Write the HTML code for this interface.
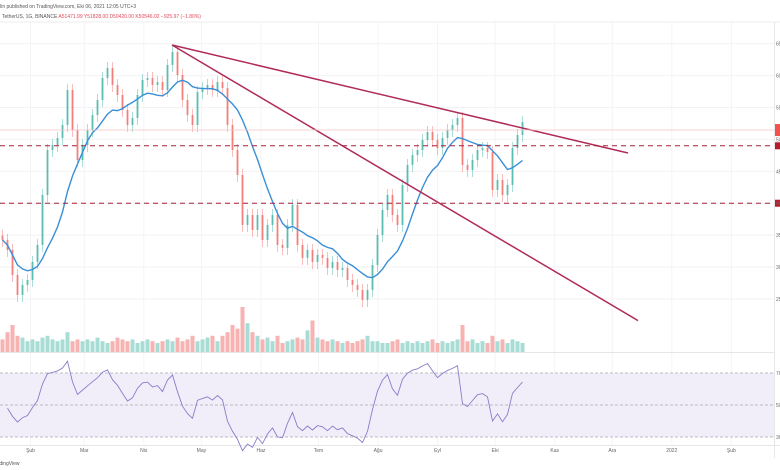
<!DOCTYPE html>
<html><head><meta charset="utf-8">
<style>
html,body{margin:0;padding:0;background:#fff;}
body{width:780px;height:470px;overflow:hidden;font-family:"Liberation Sans",sans-serif;}
svg{display:block}
</style></head>
<body>
<svg id="chart" width="780" height="470" viewBox="0 0 780 470" xmlns="http://www.w3.org/2000/svg">
  <text x="-6" y="8" font-size="5" fill="#555">eAlin published on TradingView.com, Eki 06, 2021 12:05 UTC+3</text>
  <text x="2" y="18" font-size="5" fill="#555">TetherUS, 1G, BINANCE <tspan fill="#e0495a">A51471.99 Y51828.00 D50420.00 K50546.02 −925.97 (−1.80%)</tspan></text>
  <g id="grid"></g>
  <rect x="0" y="373" width="774" height="64" fill="#f1eefa"/>
  <g id="rsiLevels"></g>
  <g id="vol"></g>
  <g id="candles"></g>
  <path id="ma" fill="none" stroke="#3a8fd6" stroke-width="1.4"/>
  <path id="rsi" fill="none" stroke="#8a7cc8" stroke-width="0.9"/>
  <g id="draw"></g>
  <g id="axes"></g>
</svg>
<script>
const closes=[34243,32676,28758,25624,27191,27975,30796,33459,41294,48346,49130,50227,52264,57748,51480,46779,49130,51480,53830,56181,59629,61196,58532,56964,54614,52264,53361,56964,59315,59629,58532,59002,57748,61666,63703,60099,56181,53830,52264,57435,58062,58532,57748,59002,58062,52264,48346,44429,36594,38161,35811,38161,34243,36594,38161,33459,32989,36594,39728,33459,31422,32676,30796,31893,31422,29855,30796,29541,29855,27975,27191,26408,24841,26408,30325,35026,38944,41294,38161,36594,42862,45996,47563,48346,49913,51167,49913,48659,50227,51480,52264,53361,45996,45212,46779,48346,48659,48032,42078,43645,41294,42862,48659,50697,52734];
const volumes=[14,22,30,18,16,12,14,12,16,18,14,12,14,22,12,14,12,14,12,16,12,10,12,16,14,12,14,10,12,14,12,10,12,14,12,16,12,14,18,12,14,16,18,12,18,22,30,26,50,32,22,18,14,16,12,18,10,12,14,16,14,24,35,16,14,12,14,12,10,12,10,12,14,18,12,12,10,10,12,14,10,12,10,12,10,12,14,10,12,10,12,14,30,12,14,10,12,10,18,12,14,10,14,12,10];
const timeLabels=["Şub","Mar","Nis","May","Haz","Tem","Ağu","Eyl","Eki","Kas","Ara","2022","Şub"];
const timeLabelDays=[31,59,90,120,151,181,212,243,273,304,334,365,396];
const priceTicks=[25000,30000,35000,40000,45000,50000,55000,60000,65000];
const rsiTicks=[70,50,30];
const lastPrice=51471.99;
const levels=[49000,40000];
// trendline anchors: [candle index, price]
const trend1=[[33.9,64800],[125.1,47870]];
const trend2=[[33.9,64800],[127.1,21600]];

const NS="http://www.w3.org/2000/svg";
function el(t,a,p){const e=document.createElementNS(NS,t);for(const k in a)e.setAttribute(k,a[k]);(p||document.getElementById('chart')).appendChild(e);return e;}
const xC=i=>2.5+5*i;
const dayX=d=>d*1.92-29;
const y=p=>45+(64800-p)*0.00638;
const yR=v=>405-(v-50)*1.6;
const volY=v=>352-v*0.9;

const grid=document.getElementById('grid');
priceTicks.forEach(p=>{const l=el('line',{x1:0,x2:774,y1:y(p),y2:y(p),stroke:'#f2f2f4','stroke-width':1},grid);});
timeLabelDays.forEach(d=>{const l=el('line',{x1:dayX(d),x2:dayX(d),y1:22,y2:445,stroke:'#f4f4f6','stroke-width':1},grid);});
el('line',{x1:0,x2:780,y1:22,y2:22,stroke:'#eee'},grid);
el('line',{x1:0,x2:774,y1:352.5,y2:352.5,stroke:'#e6e6e6'},grid);
el('line',{x1:0,x2:780,y1:445.5,y2:445.5,stroke:'#e6e6e6'},grid);
el('line',{x1:774.5,x2:774.5,y1:22,y2:458,stroke:'#e6e6e6'},grid);

const lv=document.getElementById('rsiLevels');
rsiTicks.forEach(v=>{const l=el('line',{x1:0,x2:774,y1:yR(v),y2:yR(v),stroke:'#aaa','stroke-dasharray':'3 2','stroke-width':0.7},lv);});

const vg=document.getElementById('vol'),cg=document.getElementById('candles');
closes.forEach((c,i)=>{
  const o=i?closes[i-1]:c*1.02;
  const up=c>=o;
  const col=up?'#26a69a':'#ef5350';
  const v=el('rect',{x:xC(i)-2,y:volY(volumes[i]),width:4,height:352-volY(volumes[i]),fill:up?'#a8ddd5':'#f7b3b2'},vg);
  
  
  const top=Math.min(y(o),y(c)),bot=Math.max(y(o),y(c));
  const w=el('line',{x1:xC(i),x2:xC(i),y1:top-6,y2:bot+7,stroke:col,'stroke-width':0.7,opacity:0.55},cg);
  
  
  const b=el('rect',{x:xC(i)-1,y:top,width:2,height:Math.max(1,bot-top),fill:col,opacity:0.6},cg);
  
  
});
// moving average
let d='';closes.forEach((c,i)=>{const s=closes.slice(Math.max(0,i-9),i+1);const m=s.reduce((a,b)=>a+b,0)/s.length;d+=(i?'L':'M')+xC(i)+' '+y(m).toFixed(1);});
document.getElementById('ma').setAttribute('d',d);
// RSI
let ag=0,al=0,rd='';const n=10;
closes.forEach((c,i)=>{if(!i)return;const ch=c-closes[i-1];const g=Math.max(ch,0),l=Math.max(-ch,0);
  if(i===1){ag=2000;al=2000;}ag=(ag*(n-1)+g)/n;al=(al*(n-1)+l)/n;
  const r=100-100/(1+ag/(al||1e-6));rd+=(rd?'L':'M')+xC(i)+' '+yR(r).toFixed(1);});
document.getElementById('rsi').setAttribute('d',rd);

// drawings
const dr=document.getElementById('draw');
[trend1,trend2].forEach(t=>{const l=el('line',{x1:xC(t[0][0]),y1:y(t[0][1]),x2:xC(t[1][0]),y2:y(t[1][1]),stroke:'#b02a5a','stroke-width':1.5},dr);});
levels.forEach(p=>{const l=el('line',{x1:0,x2:774,y1:y(p),y2:y(p),stroke:'#a3213a','stroke-width':1,'stroke-dasharray':'5 4'},dr);
  const r=el('rect',{x:775,y:y(p)-3.5,width:6,height:7,fill:'#b71c2c'},dr);});
const lp=el('line',{x1:0,x2:774,y1:y(lastPrice),y2:y(lastPrice),stroke:'#f4c5c8','stroke-width':0.8},dr);

const lr=el('rect',{x:775,y:y(lastPrice)-6,width:6,height:12,fill:'#ef5350'},dr);


// axes
const ax=document.getElementById('axes');
priceTicks.forEach(p=>{const t=el('text',{x:776,y:y(p)+2,'font-size':5,fill:'#666'},ax);t.textContent=String(p);});
rsiTicks.forEach(v=>{const t=el('text',{x:776,y:yR(v)+2,'font-size':5,fill:'#666'},ax);t.textContent=String(v);});
timeLabels.forEach((s,i)=>{const t=el('text',{x:dayX(timeLabelDays[i]),y:452,'font-size':5,fill:'#666','text-anchor':'middle'},ax);t.textContent=s;});
const wm=el('text',{x:-8,y:465,'font-size':5,fill:'#555'},ax);wm.textContent='TradingView';

</script>
</body></html>
